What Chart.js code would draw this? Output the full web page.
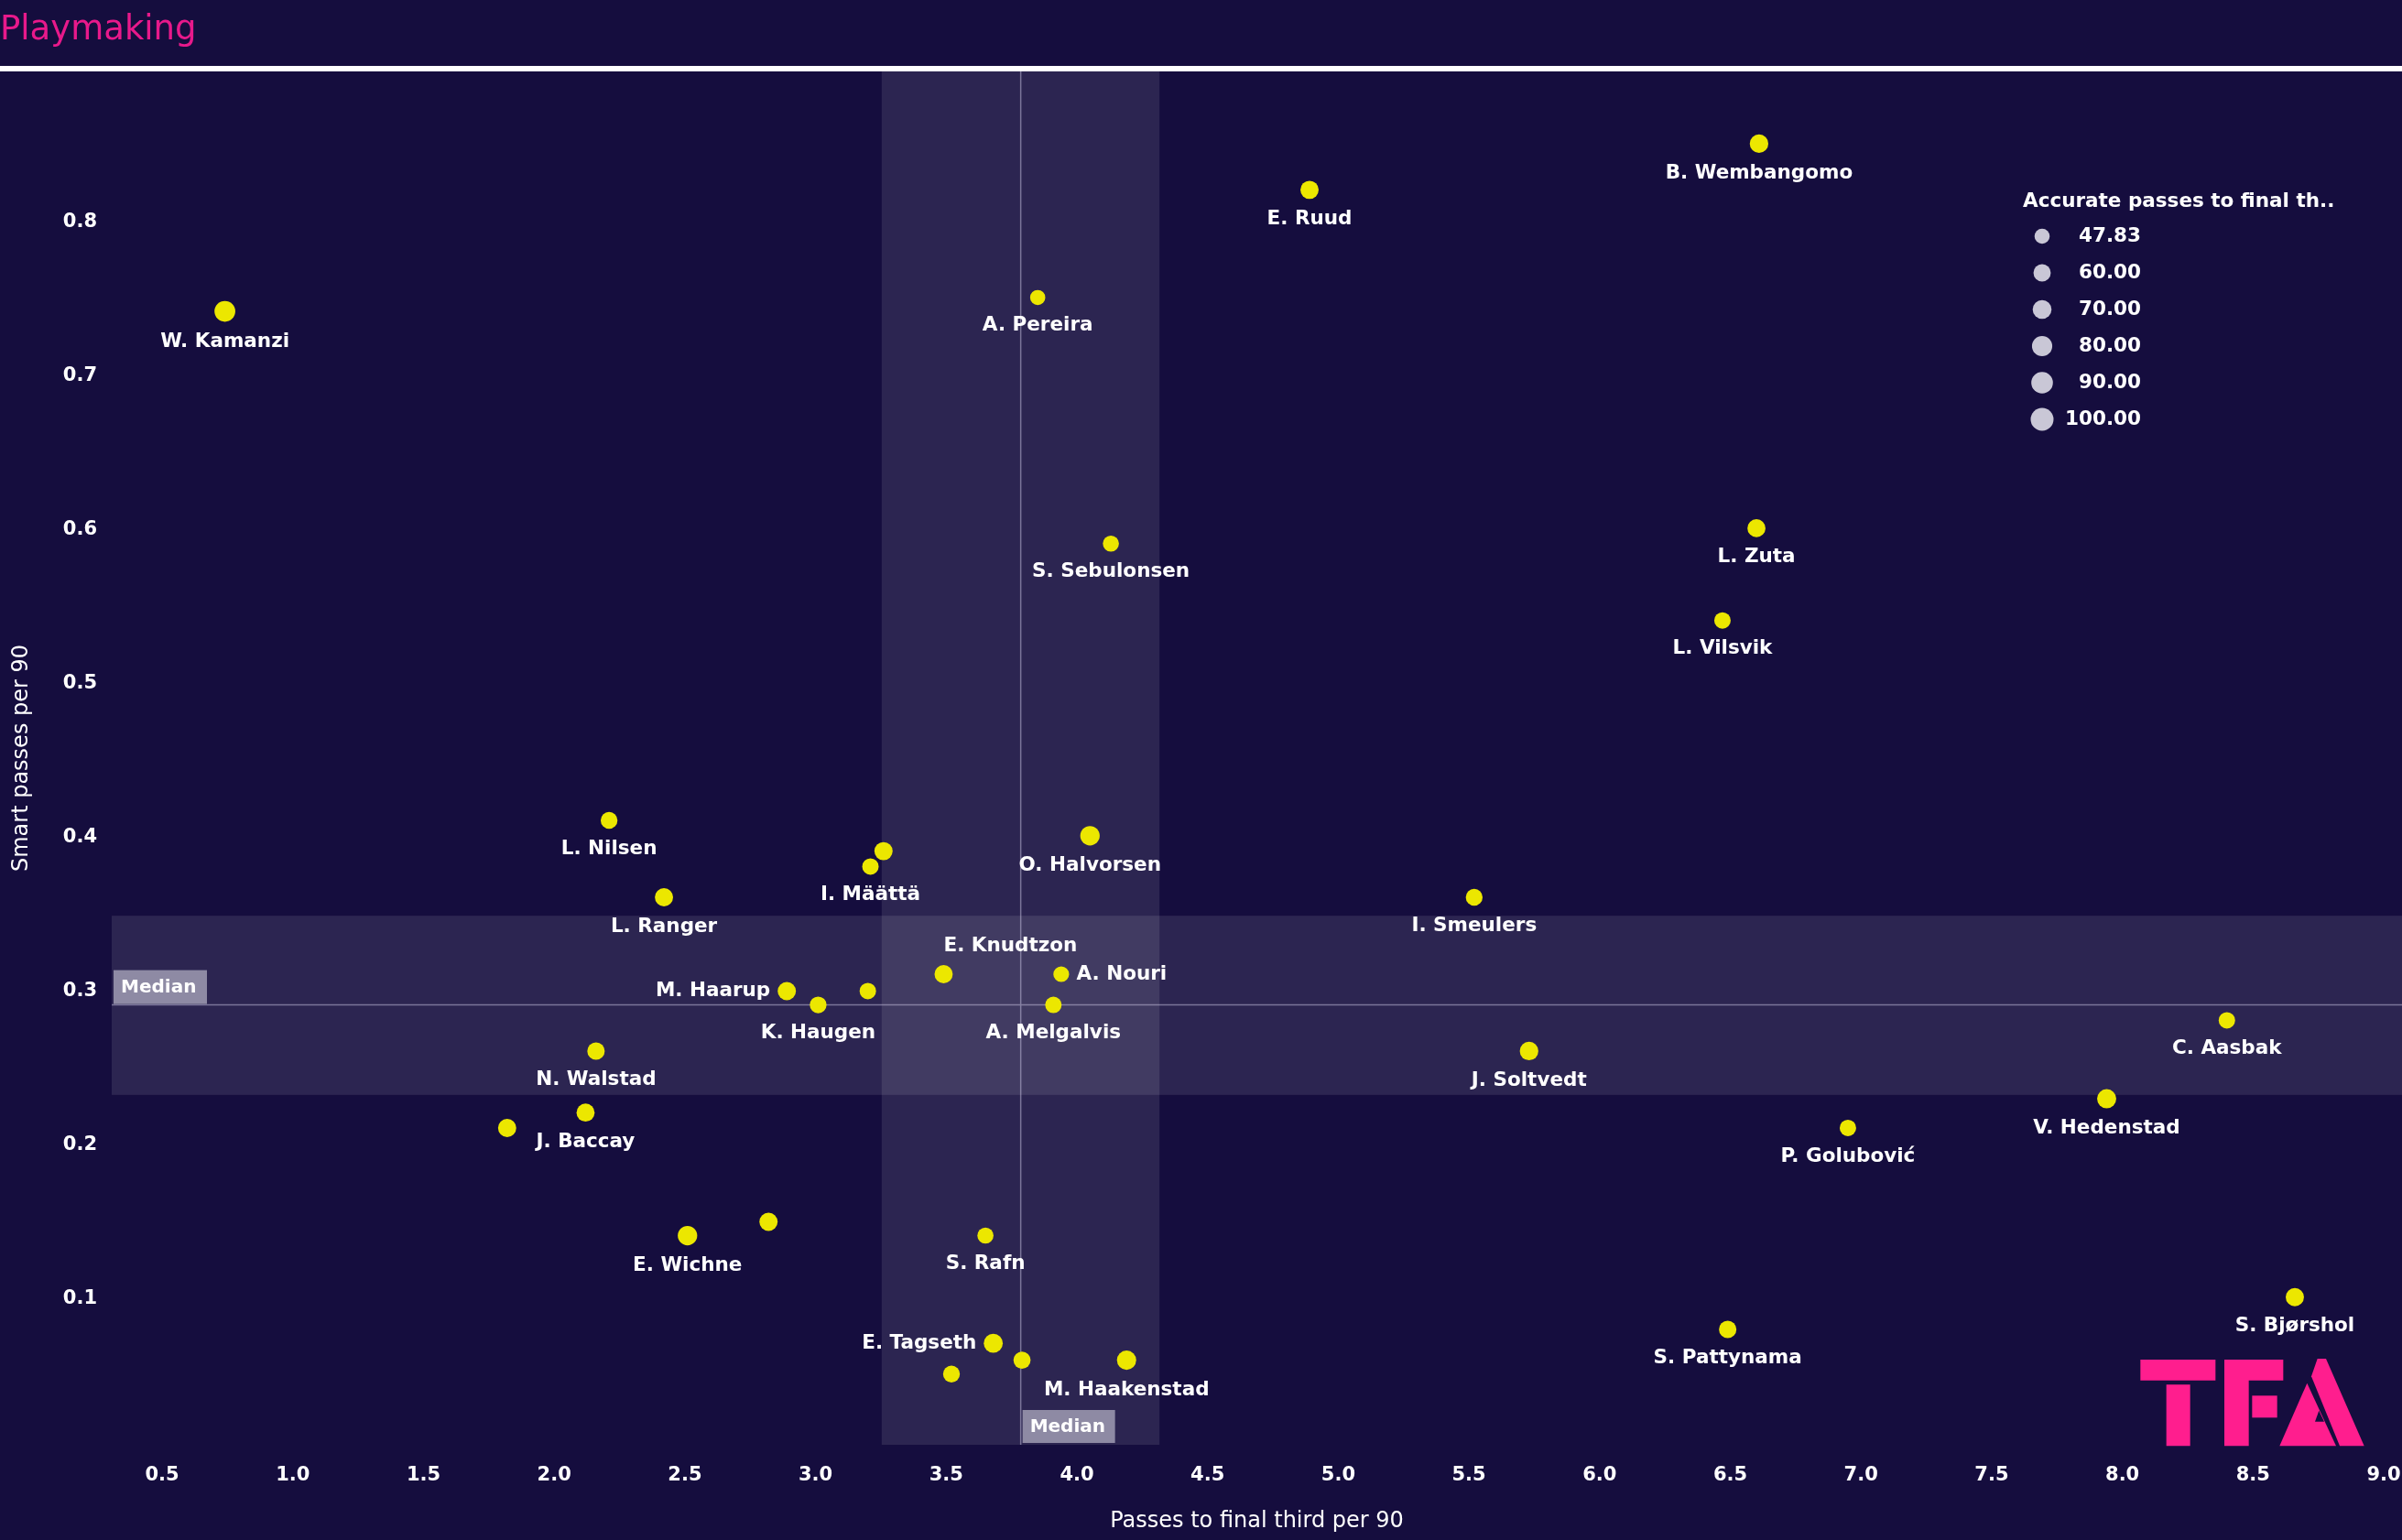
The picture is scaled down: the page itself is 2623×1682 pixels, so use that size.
<!DOCTYPE html>
<html>
<head>
<meta charset="utf-8">
<title>Playmaking</title>
<script src="https://cdn.jsdelivr.net/npm/chart.js"></script>
<style>
  html, body { margin: 0; padding: 0; background: #150d3e; }
  canvas { display: block; }
</style>
</head>
<body>
<canvas id="playmakingChart" width="2623" height="1682" style="width:2623px;height:1682px"></canvas>
<script>
// Player names ('' = point Tableau left unlabelled)
const players = [
    'W. Kamanzi', 'A. Pereira', 'E. Ruud', 'B. Wembangomo', 'S. Sebulonsen',
    'L. Zuta', 'L. Vilsvik', 'L. Nilsen', 'O. Halvorsen', 'I. Määttä',
    '', 'L. Ranger', 'I. Smeulers', 'E. Knudtzon', 'A. Nouri',
    'M. Haarup', '', 'K. Haugen', 'A. Melgalvis', 'C. Aasbak',
    'N. Walstad', 'J. Soltvedt', 'V. Hedenstad', 'J. Baccay', '',
    'P. Golubović', 'E. Wichne', '', 'S. Rafn', 'S. Bjørshol',
    'S. Pattynama', 'E. Tagseth', '', 'M. Haakenstad', ''
];
const passesFinalThird = [
    0.74, 3.85, 4.89, 6.61, 4.13,
    6.60, 6.47, 2.21, 4.05, 3.21,
    3.26, 2.42, 5.52, 3.49, 3.94,
    2.89, 3.20, 3.01, 3.91, 8.40,
    2.16, 5.73, 7.94, 2.12, 1.82,
    6.95, 2.51, 2.82, 3.65, 8.66,
    6.49, 3.68, 3.79, 4.19, 3.52
];
const smartPasses = [
    0.742, 0.751, 0.821, 0.851, 0.591,
    0.601, 0.541, 0.411, 0.401, 0.381,
    0.391, 0.361, 0.361, 0.311, 0.311,
    0.300, 0.300, 0.291, 0.291, 0.281,
    0.261, 0.261, 0.230, 0.221, 0.211,
    0.211, 0.141, 0.150, 0.141, 0.101,
    0.080, 0.071, 0.060, 0.060, 0.051
];
const accuratePasses = [
    84, 47.83, 66, 68, 53,
    65, 55, 57, 74, 55,
    66, 66, 57, 66, 51,
    66, 55, 57, 55, 55,
    61, 68, 72, 65, 66,
    55, 74, 66, 53, 66,
    61, 71, 59, 73, 57
];
const legendSizes = [47.83, 60, 70, 80, 90, 100];

const medianX = 3.785;
const bandX = [3.253, 4.316];
const medianY = 0.291;
const bandY = [0.2325, 0.349];

const BG = '#150d3e';
const LABEL_FONT = 'bold 21.5px "DejaVu Sans"';

// where a label sits relative to its point (default: below)
const labelPlacement = {
    'M. Haarup': 'left',
    'E. Tagseth': 'left',
    'A. Nouri': 'right',
    'E. Knudtzon': 'aboveRight'
};

// TFA mark outline, in thirds of a pixel from (2320, 1470)
const logoShapes = [
    [[52, 45], [298, 45], [298, 113], [52, 113]],
    [[137, 127], [215, 127], [215, 328], [137, 328]],
    [[327, 45], [520, 45], [520, 113], [407, 113], [407, 328], [327, 328]],
    [[418, 163], [500, 163], [500, 235], [418, 235]],
    [[612, 100], [632, 42], [660, 42], [785, 328], [705, 328]],
    [[598, 122], [693, 328], [508, 328]]
];
const logoCounter = [[624, 248], [654, 248], [637, 212]];

function sizeToRadius(v) {
    const area = 216 + 5.27 * (v - 47.83);
    return Math.sqrt(area / Math.PI);
}

const points = passesFinalThird.map(function(x, i) {
    return {x: x, y: smartPasses[i]};
});

function fillPoly(c, pts) {
    c.beginPath();
    pts.forEach(function(p, i) {
        const px = 2320 + p[0] / 3;
        const py = 1470 + p[1] / 3;
        if (i === 0) {
            c.moveTo(px, py);
        } else {
            c.lineTo(px, py);
        }
    });
    c.closePath();
    c.fill();
}

const backgroundPlugin = {
    id: 'background',
    beforeDraw: function(chart) {
        const c = chart.ctx;
        c.save();
        c.fillStyle = BG;
        c.fillRect(0, 0, chart.width, chart.height);
        c.restore();
    }
};

const medianPlugin = {
    id: 'medians',
    beforeDatasetsDraw: function(chart) {
        const c = chart.ctx;
        const area = chart.chartArea;
        const xs = chart.scales.x;
        const ys = chart.scales.y;
        c.save();
        c.fillStyle = 'rgba(255,255,255,0.1)';
        const bx0 = xs.getPixelForValue(bandX[0]);
        const bx1 = xs.getPixelForValue(bandX[1]);
        c.fillRect(bx0, area.top, bx1 - bx0, area.bottom - area.top);
        const by0 = ys.getPixelForValue(bandY[1]);
        const by1 = ys.getPixelForValue(bandY[0]);
        c.fillRect(area.left, by0, area.right - area.left, by1 - by0);

        c.strokeStyle = 'rgba(190,185,215,0.55)';
        c.lineWidth = 1.5;
        const mx = xs.getPixelForValue(medianX);
        const my = ys.getPixelForValue(medianY);
        c.beginPath();
        c.moveTo(mx, area.top);
        c.lineTo(mx, area.bottom);
        c.moveTo(area.left, my);
        c.lineTo(area.right, my);
        c.stroke();
        c.restore();
    },
    afterDatasetsDraw: function(chart) {
        const c = chart.ctx;
        const area = chart.chartArea;
        const mx = chart.scales.x.getPixelForValue(medianX);
        const my = chart.scales.y.getPixelForValue(medianY);
        c.save();
        c.font = 'bold 20px "DejaVu Sans"';
        c.textBaseline = 'middle';
        c.textAlign = 'left';
        // vertical median tag, bottom
        c.fillStyle = '#8e8aa4';
        c.fillRect(mx + 2, area.bottom - 38, 101, 36);
        c.fillStyle = '#ffffff';
        c.fillText('Median', mx + 10, area.bottom - 19);
        // horizontal median tag, left
        c.fillStyle = '#8e8aa4';
        c.fillRect(area.left + 2, my - 38, 102, 37);
        c.fillStyle = '#ffffff';
        c.fillText('Median', area.left + 10, my - 19);
        c.restore();
    }
};

const labelPlugin = {
    id: 'pointLabels',
    afterDatasetsDraw: function(chart) {
        const c = chart.ctx;
        const meta = chart.getDatasetMeta(0);
        c.save();
        c.font = LABEL_FONT;
        c.fillStyle = '#ffffff';
        c.textBaseline = 'middle';
        meta.data.forEach(function(el, i) {
            const name = players[i];
            if (!name) {
                return;
            }
            const r = sizeToRadius(accuratePasses[i]);
            const where = labelPlacement[name] || 'below';
            if (where === 'left') {
                c.textAlign = 'right';
                c.fillText(name, el.x - r - 8, el.y);
            } else if (where === 'right') {
                c.textAlign = 'left';
                c.fillText(name, el.x + r + 8, el.y);
            } else if (where === 'aboveRight') {
                c.textAlign = 'left';
                c.fillText(name, el.x, el.y - r - 21);
            } else {
                c.textAlign = 'center';
                c.fillText(name, el.x, el.y + r + 22);
            }
        });
        c.restore();
    }
};

const decorPlugin = {
    id: 'decor',
    afterDraw: function(chart) {
        const c = chart.ctx;
        c.save();
        // title and rule
        c.fillStyle = '#e8198b';
        c.font = '37px "DejaVu Sans"';
        c.textAlign = 'left';
        c.textBaseline = 'alphabetic';
        c.fillText('Playmaking', 0, 43);
        c.fillStyle = '#ffffff';
        c.fillRect(0, 72, chart.width, 6);

        // size legend
        c.font = LABEL_FONT;
        c.textBaseline = 'middle';
        c.fillText('Accurate passes to final th..', 2209, 220);
        legendSizes.forEach(function(v, i) {
            const cy = 258 + i * 40;
            c.fillStyle = '#c9c7d6';
            c.beginPath();
            c.arc(2230, cy, sizeToRadius(v), 0, Math.PI * 2);
            c.fill();
            c.fillStyle = '#ffffff';
            c.textAlign = 'right';
            c.fillText(v.toFixed(2), 2338, cy);
            c.textAlign = 'left';
        });

        // TFA mark
        c.fillStyle = '#ff1e8e';
        logoShapes.forEach(function(s) {
            fillPoly(c, s);
        });
        c.fillStyle = BG;
        fillPoly(c, logoCounter);
        c.restore();
    }
};

const ctx = document.getElementById('playmakingChart').getContext('2d');
const playmakingChart = new Chart(ctx, {
    type: 'scatter',
    data: {
        datasets: [{
            label: 'Players',
            data: points,
            backgroundColor: '#ece700',
            borderWidth: 0,
            pointRadius: function(context) {
                return sizeToRadius(accuratePasses[context.dataIndex]);
            },
            pointHoverRadius: function(context) {
                return sizeToRadius(accuratePasses[context.dataIndex]);
            }
        }]
    },
    options: {
        responsive: false,
        animation: false,
        events: [],
        layout: {
            autoPadding: false,
            padding: {top: 78, right: 0, bottom: 0, left: 0}
        },
        plugins: {
            legend: {display: false},
            tooltip: {enabled: false}
        },
        scales: {
            x: {
                type: 'linear',
                min: 0.307,
                max: 9.07,
                grid: {display: false},
                border: {display: false},
                ticks: {
                    stepSize: 0.5,
                    includeBounds: false,
                    color: '#ffffff',
                    padding: 0,
                    font: {family: 'DejaVu Sans', weight: 'bold', size: 21, lineHeight: 2.42},
                    callback: function(value) {
                        return value.toFixed(1);
                    }
                },
                title: {
                    display: true,
                    text: 'Passes to final third per 90',
                    color: '#ffffff',
                    font: {family: 'DejaVu Sans', size: 24},
                    padding: {top: 0, bottom: 6}
                },
                afterFit: function(scale) {
                    scale.height = 104;
                    scale.paddingLeft = 0;
                    scale.paddingRight = 0;
                }
            },
            y: {
                type: 'linear',
                min: 0.005,
                max: 0.898,
                grid: {display: false},
                border: {display: false},
                ticks: {
                    stepSize: 0.1,
                    includeBounds: false,
                    color: '#ffffff',
                    padding: 8,
                    font: {family: 'DejaVu Sans', weight: 'bold', size: 21},
                    callback: function(value) {
                        return value.toFixed(1);
                    }
                },
                title: {
                    display: true,
                    text: 'Smart passes per 90',
                    color: '#ffffff',
                    font: {family: 'DejaVu Sans', size: 24},
                    padding: {top: 9, bottom: 0}
                },
                afterFit: function(scale) {
                    scale.width = 122;
                    scale.paddingTop = 0;
                    scale.paddingBottom = 0;
                }
            }
        }
    },
    plugins: [backgroundPlugin, medianPlugin, labelPlugin, decorPlugin]
});
</script>
</body>
</html>
